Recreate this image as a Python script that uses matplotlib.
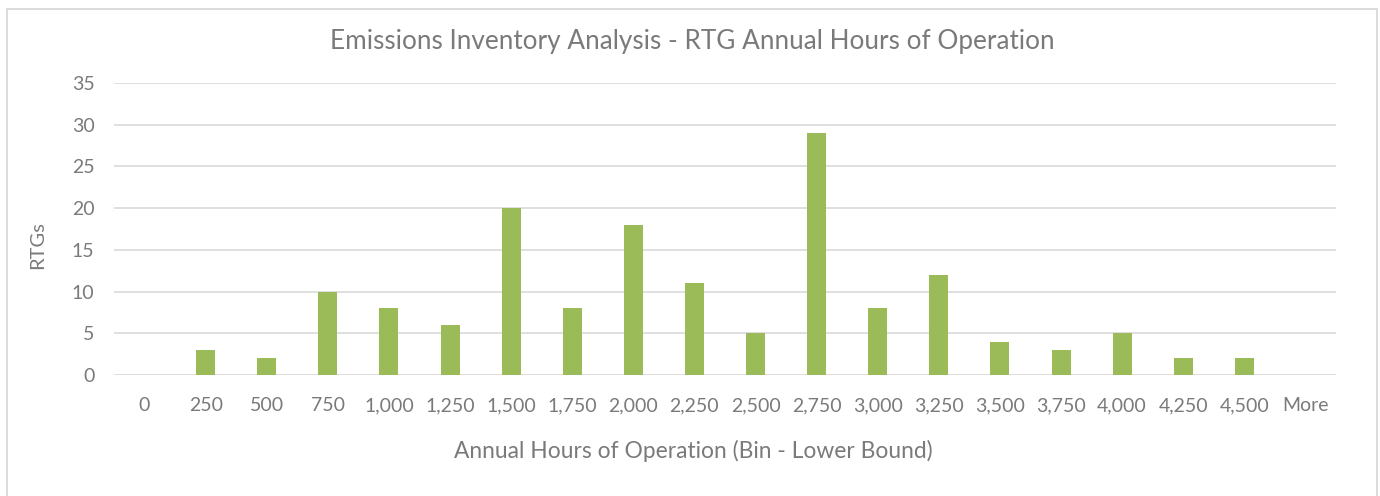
import matplotlib
matplotlib.use("Agg")
import matplotlib.pyplot as plt
from matplotlib.patches import Rectangle

categories = ["0", "250", "500", "750", "1,000", "1,250", "1,500", "1,750", "2,000",
              "2,250", "2,500", "2,750", "3,000", "3,250", "3,500", "3,750", "4,000",
              "4,250", "4,500", "More"]
counts = [0, 3, 2, 10, 8, 6, 20, 8, 18, 11, 5, 29, 8, 12, 4, 3, 5, 2, 2, 0]
yticks = [0, 5, 10, 15, 20, 25, 30, 35]

plt.rcParams['font.family'] = ['Lato', 'DejaVu Sans']
W, H = 1380, 496
fig = plt.figure(figsize=(W / 100, H / 100), dpi=100)
fig.patch.set_facecolor('white')

# outer border
fig.patches.append(Rectangle((7 / W, -0.1), (1377 - 7) / W, 1.1 - 9 / H,
                             transform=fig.transFigure, fill=False,
                             edgecolor='#D9D9D9', linewidth=1.3))

txt = '#7A7A7A'
ax = fig.add_axes([114 / W, 1 - 375 / H, (1336 - 114) / W, (375 - 83) / H])
x = list(range(len(categories)))
ax.bar(x, counts, width=0.31, color='#9BBB59', zorder=3)
ax.set_xlim(-0.5, len(categories) - 0.5)
ax.set_ylim(0, 35)
ax.set_yticks(yticks)
ax.set_xticks(x)
ax.set_xticklabels(categories)
ax.grid(axis='y', color='#D9D9D9', linewidth=1.2, zorder=0)
for s in ['top', 'right', 'left', 'bottom']:
    ax.spines[s].set_visible(False)
ax.tick_params(axis='both', length=0, colors=txt, labelsize=14)
ax.tick_params(axis='y', pad=14)
ax.tick_params(axis='x', pad=16)
fig.text(38 / W, 1 - 245 / H, 'RTGs', rotation=90, ha='center', va='center',
         fontsize=14.5, color=txt)
fig.text(693 / W, 1 - 451 / H, 'Annual Hours of Operation (Bin - Lower Bound)',
         ha='center', va='center', fontsize=16.4, color=txt)
fig.text(692 / W, 1 - 42 / H, 'Emissions Inventory Analysis - RTG Annual Hours of Operation',
         ha='center', va='center', fontsize=18.8, color=txt)

fig.savefig('out.png', dpi=100, facecolor='white')
